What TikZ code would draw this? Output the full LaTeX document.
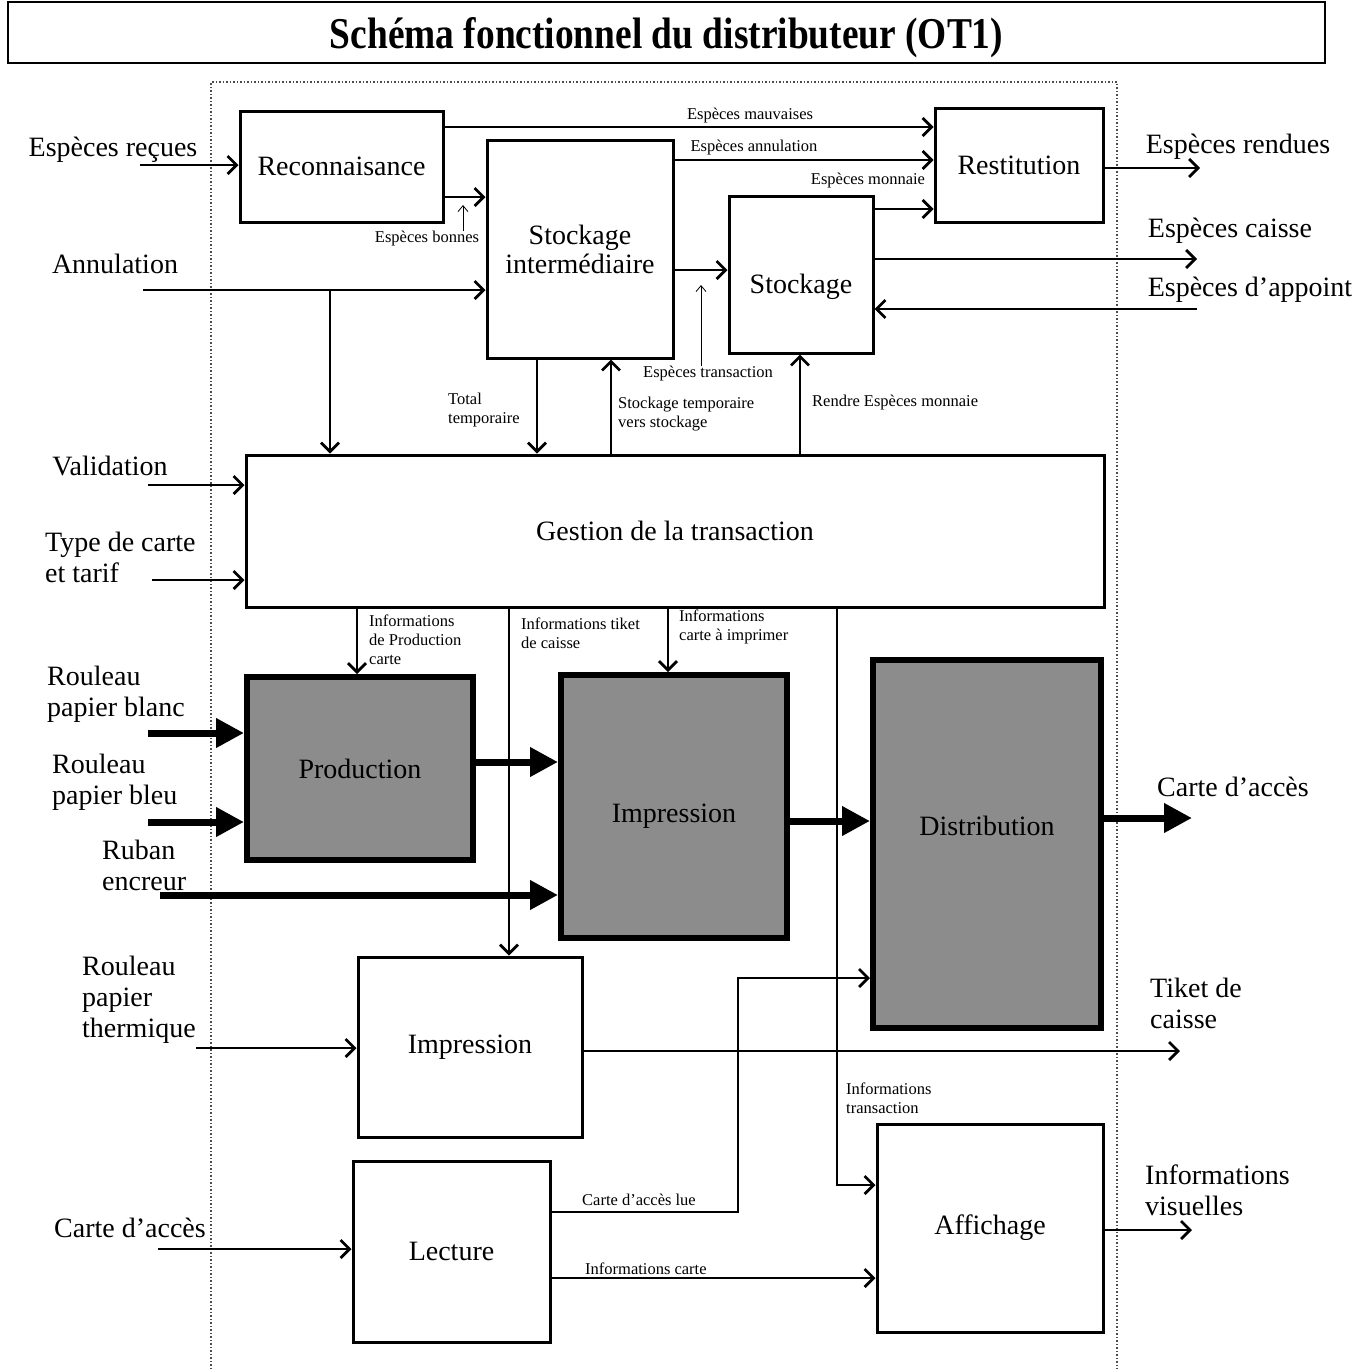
\documentclass[tikz,border=0pt]{standalone}
\usepackage{fontspec}
\setmainfont{Liberation Serif}
\usetikzlibrary{arrows.meta}

\newcommand{\grand}{\fontsize{28}{31}\selectfont}
\newcommand{\petit}{\fontsize{16.5}{19}\selectfont}

\begin{document}
\begin{tikzpicture}[x=1pt, y=-1pt,
        bloc/.style={draw, line width=3pt, inner sep=0pt, font=\grand, align=center},
        blocgris/.style={draw, line width=6pt, fill=black!45, inner sep=0pt, font=\grand},
        texte/.style={font=\grand, inner sep=0pt},
        flux/.style={line width=2.8pt, -{Straight Barb[length=9pt,width=18pt]}},
        fluxgros/.style={line width=7pt, -{Triangle[length=28pt,width=28pt]}},
        fin/.style={line width=0.8pt, -{Straight Barb[length=6pt,width=10pt]}},
        etiq/.style={font=\petit, inner sep=0pt, align=left},
        libelle/.style={font=\grand, inner sep=0pt, align=left}]
    \useasboundingbox (0,0) rectangle (1361,1369);

    \node[draw, line width=2.5pt, minimum width=1317pt, minimum height=61pt, inner sep=0pt,
        label={[inner sep=0pt, yshift=-5pt]center:\scalebox{0.85}[1]{\fontsize{44}{48}\selectfont\bfseries Schéma fonctionnel du distributeur (OT1)}}]
        (titre) at (666.5,32.5) {};
    \draw [dotted, line width=1.5pt, black!70] (211,1369) -- (211,82) -- (1117,82) -- (1117,1369);

    % blocs
    \node[bloc, minimum width=203pt, minimum height=111pt] (recon) at (341.5,166.5) {Reconnaisance};
    \node[bloc, minimum width=186pt, minimum height=218pt] (stockint) at (580,249) {Stockage\\[-2pt]intermédiaire};
    \node[bloc, minimum width=168pt, minimum height=114pt] (restit) at (1019,165) {Restitution};
    \node[bloc, minimum width=144pt, minimum height=157pt,
        label={[texte, yshift=-12pt]center:Stockage}] (stock) at (801,274.5) {};
    \node[bloc, minimum width=858pt, minimum height=152pt] (gestion) at (675,531) {Gestion de la transaction};
    \node[blocgris, minimum width=226pt, minimum height=183pt] (prod) at (360,768.5) {Production};
    \node[blocgris, minimum width=226pt, minimum height=263pt,
        label={[texte, yshift=-10pt]center:Impression}] (impcarte) at (674,806.5) {};
    \node[blocgris, minimum width=228pt, minimum height=368pt,
        label={[texte, yshift=18pt]center:Distribution}] (distrib) at (987,844) {};
    \node[bloc, minimum width=224pt, minimum height=180pt] (impticket) at (470,1047) {Impression};
    \node[bloc, minimum width=197pt, minimum height=181pt] (lecture) at (451.5,1251.5) {Lecture};
    \node[bloc, minimum width=226pt, minimum height=208pt] (affich) at (990,1228) {Affichage};

    % entrees et sorties
    \node[libelle] (lrecues) at (113,150) {Espèces reçues};
    \node[libelle] (lannul) at (115,264) {Annulation};
    \node[libelle] (lvalid) at (110,466) {Validation};
    \node[libelle, anchor=west] (ltype) at (45,557) {Type de carte\\et tarif};
    \node[libelle, anchor=west] (lblanc) at (47,694) {Rouleau\\papier blanc};
    \node[libelle, anchor=west] (lbleu) at (52,782) {Rouleau\\papier bleu};
    \node[libelle, anchor=west] (lruban) at (102,865) {Ruban\\encreur};
    \node[libelle, anchor=west] (ltherm) at (82,1000) {Rouleau\\papier\\thermique};
    \node[libelle] (lacces) at (130,1228) {Carte d’accès};
    \node[libelle] (lrendues) at (1238,147) {Espèces rendues};
    \node[libelle] (lcaisse) at (1230,231) {Espèces caisse};
    \node[libelle] (lappoint) at (1250,290) {Espèces d’appoint};
    \node[libelle] (lcarte) at (1233,787) {Carte d’accès};
    \node[libelle, anchor=west] (ltiket) at (1150,1003) {Tiket de\\caisse};
    \node[libelle, anchor=west] (lvisu) at (1145,1190) {Informations\\visuelles};

    \coordinate (in-recues) at (140,165);
    \coordinate (in-annul) at (143,290);
    \coordinate (br-annul) at (330,290);
    \coordinate (in-valid) at (148,485);
    \coordinate (in-type) at (152,580);
    \coordinate (in-blanc) at (148,733);
    \coordinate (in-bleu) at (148,822);
    \coordinate (in-ruban) at (160,895);
    \coordinate (in-therm) at (196,1048);
    \coordinate (in-acces) at (158,1249);
    \coordinate (in-appoint) at (1197,309);
    \coordinate (out-rendues) at (1200,168);
    \coordinate (out-caisse) at (1197,259);
    \coordinate (out-carte) at (1192,818);
    \coordinate (out-tiket) at (1180,1051);
    \coordinate (out-visu) at (1192,1230);
    \coordinate (coude-lue) at (738,978);

    % etiquettes des flux
    \node[etiq] (lmauv) at (750,116) {Espèces mauvaises};
    \node[etiq] (lannulesp) at (754,148) {Espèces annulation};
    \node[etiq] (lmonn) at (868,181) {Espèces monnaie};
    \node[etiq] (lbonnes) at (427,239) {Espèces bonnes};
    \node[etiq] (ltrans) at (708,374) {Espèces transaction};
    \node[etiq, anchor=west] (ltotal) at (448,410) {Total\\temporaire};
    \node[etiq, anchor=west] (lstocktemp) at (618,414) {Stockage temporaire\\vers stockage};
    \node[etiq, anchor=west] (lrendre) at (812,403) {Rendre Espèces monnaie};
    \node[etiq, anchor=west] (linfoprod) at (369,640) {Informations\\de Production\\carte};
    \node[etiq, anchor=west] (linfotik) at (521,633) {Informations tiket\\de caisse};
    \node[etiq, anchor=west] (linfoimp) at (679,627) {Informations\\carte à imprimer};
    \node[etiq, anchor=west] (linfotrans) at (846,1098) {Informations\\transaction};
    \node[etiq, anchor=west] (llue) at (582,1200) {Carte d’accès lue};
    \node[etiq, anchor=west] (linfocarte) at (585,1269) {Informations carte};

    % flux
    \draw [flux] (in-recues) -- (recon.west |- in-recues);
    \draw [flux] (recon.east |- 0,127) -- (restit.west |- 0,127);
    \draw [flux] (recon.east |- 0,197) -- (stockint.west |- 0,197);
    \draw [flux] (stockint.east |- 0,160) -- (restit.west |- 0,160);
    \draw [flux] (stock.east |- 0,209) -- (restit.west |- 0,209);
    \draw [flux] (stockint.east |- 0,270) -- (stock.west |- 0,270);
    \draw [flux] (stock.east |- out-caisse) -- (out-caisse);
    \draw [flux] (in-appoint) -- (stock.east |- in-appoint);
    \draw [flux] (restit.east |- out-rendues) -- (out-rendues);
    \draw [flux] (in-annul) -- (stockint.west |- in-annul);
    \draw [flux] (br-annul) -- (br-annul |- gestion.north);
    \draw [flux] (stockint.south -| 537,0) -- (gestion.north -| 537,0);
    \draw [flux] (gestion.north -| 611,0) -- (stockint.south -| 611,0);
    \draw [flux] (gestion.north -| 800,0) -- (stock.south -| 800,0);
    \draw [flux] (in-valid) -- (gestion.west |- in-valid);
    \draw [flux] (in-type) -- (gestion.west |- in-type);
    \draw [flux] (gestion.south -| 357,0) -- (prod.north -| 357,0);
    \draw [flux] (gestion.south -| 509,0) -- (impticket.north -| 509,0);
    \draw [flux] (gestion.south -| 668,0) -- (impcarte.north -| 668,0);
    \draw [flux] (gestion.south -| 837,0) |- (affich.west |- 0,1185);
    \draw [flux] (in-therm) -- (impticket.west |- in-therm);
    \draw [flux] (impticket.east |- out-tiket) -- (out-tiket);
    \draw [flux] (lecture.east |- 0,1212) -| (coude-lue) -- (distrib.west |- coude-lue);
    \draw [flux] (lecture.east |- 0,1278) -- (affich.west |- 0,1278);
    \draw [flux] (in-acces) -- (lecture.west |- in-acces);
    \draw [flux] (affich.east |- out-visu) -- (out-visu);

    \foreach \c in {in-blanc, in-bleu} {
        \draw [fluxgros] (\c) -- (prod.west |- \c);
    }
    \draw [fluxgros] (in-ruban) -- (impcarte.west |- in-ruban);
    \draw [fluxgros] (prod.east |- 0,762) -- (impcarte.west |- 0,762);
    \draw [fluxgros] (impcarte.east |- 0,821) -- (distrib.west |- 0,821);
    \draw [fluxgros] (distrib.east |- out-carte) -- (out-carte);

    \draw [fin] (lbonnes.north -| 463,0) -- (463,205);
    \draw [fin] (ltrans.north -| 701,0) -- (701,285);
\end{tikzpicture}
\end{document}
